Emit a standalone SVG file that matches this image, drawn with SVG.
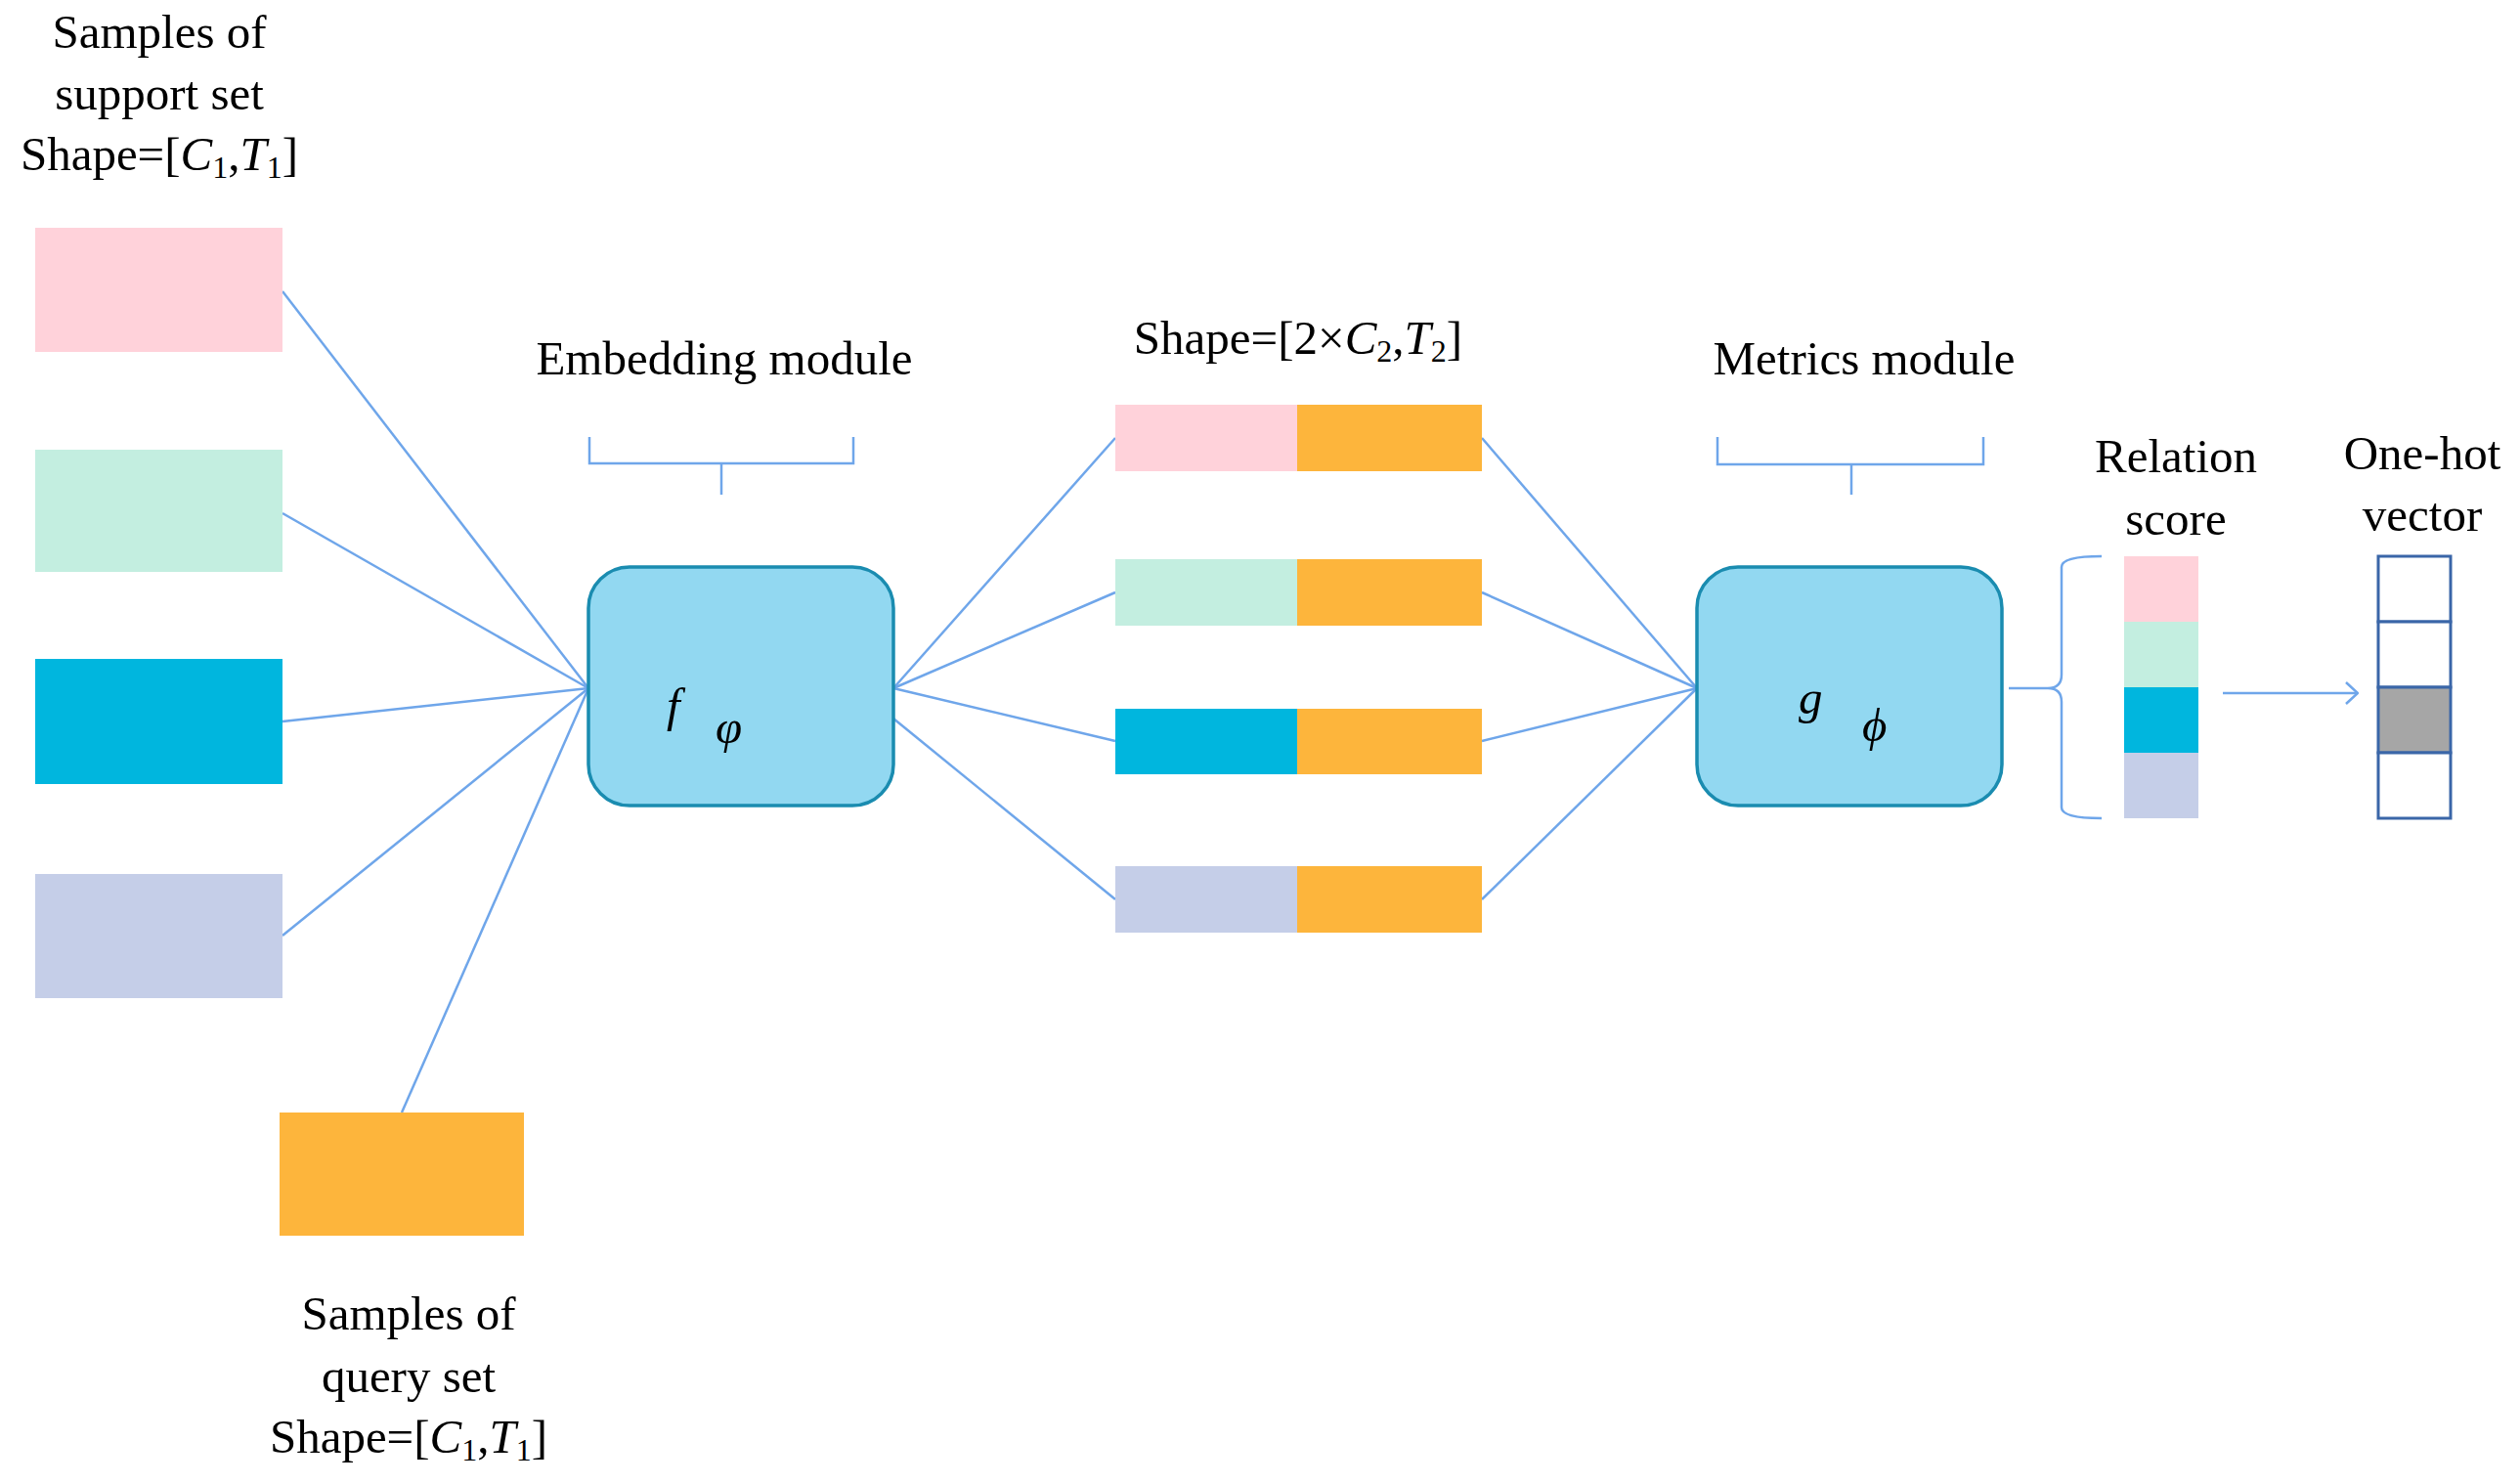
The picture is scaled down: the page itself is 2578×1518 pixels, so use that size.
<svg xmlns="http://www.w3.org/2000/svg" width="2578" height="1518" viewBox="0 0 2578 1518">
<style>
text{font-family:"Liberation Serif",serif;fill:#000;font-size:49px}
.c{stroke:#6fa6ea;stroke-width:2.5;fill:none}
.box{fill:#92d8f1;stroke:#1a8cb0;stroke-width:3.5}
.pk{fill:#ffd2da}.gr{fill:#c3eee0}.bl{fill:#00b6de}.lv{fill:#c5cee8}.or{fill:#fdb53c}
.oh{fill:#fff;stroke:#3a66a8;stroke-width:3}
</style>
<defs><marker id="a" markerWidth="14" markerHeight="24" refX="13" refY="12" orient="auto" markerUnits="userSpaceOnUse"><path d="M1,1 L13,12 L1,23" fill="none" stroke="#6fa6ea" stroke-width="2.5"/></marker></defs>
<g id="connectors">
<line class="c" x1="289" y1="298" x2="602" y2="704"/>
<line class="c" x1="289" y1="525" x2="602" y2="704"/>
<line class="c" x1="289" y1="738" x2="602" y2="704"/>
<line class="c" x1="289" y1="957" x2="602" y2="704"/>
<line class="c" x1="411" y1="1138" x2="602" y2="704"/>
<line class="c" x1="914" y1="704" x2="1141" y2="448"/>
<line class="c" x1="914" y1="704" x2="1141" y2="606"/>
<line class="c" x1="914" y1="704" x2="1141" y2="758"/>
<line class="c" x1="914" y1="735" x2="1141" y2="920"/>
<line class="c" x1="1516" y1="448" x2="1736" y2="704"/>
<line class="c" x1="1516" y1="606" x2="1736" y2="704"/>
<line class="c" x1="1516" y1="758" x2="1736" y2="704"/>
<line class="c" x1="1516" y1="920" x2="1736" y2="704"/>
<path class="c" d="M603,447 V474 H873 V447 M738,474 V506"/>
<path class="c" d="M1757,447 V475 H2029 V447 M1894,475 V506"/>
<path class="c" d="M2055,704 H2095 Q2109,704 2109,690 V580 Q2109,569 2150,569 M2095,704 Q2109,704 2109,718 V826 Q2109,837 2150,837"/>
<line class="c" x1="2274" y1="709" x2="2412" y2="709" marker-end="url(#a)"/>
</g>
<g id="support-label"><text text-anchor="middle" x="163" y="49">Samples of</text><text text-anchor="middle" x="163" y="112">support set</text><text text-anchor="middle" x="163" y="174">Shape=[<tspan font-style="italic">C</tspan><tspan font-size="32" dy="8">1</tspan><tspan dy="-8">,</tspan><tspan font-style="italic">T</tspan><tspan font-size="32" dy="8">1</tspan><tspan dy="-8">]</tspan></text></g>
<g id="support"><rect class="pk" x="36" y="233" width="253" height="127"/><rect class="gr" x="36" y="460" width="253" height="125"/><rect class="bl" x="36" y="674" width="253" height="128"/><rect class="lv" x="36" y="894" width="253" height="127"/></g>
<g id="query"><rect class="or" x="286" y="1138" width="250" height="126"/><text text-anchor="middle" x="418" y="1360">Samples of</text><text text-anchor="middle" x="418" y="1424">query set</text><text text-anchor="middle" x="418" y="1486">Shape=[<tspan font-style="italic">C</tspan><tspan font-size="32" dy="8">1</tspan><tspan dy="-8">,</tspan><tspan font-style="italic">T</tspan><tspan font-size="32" dy="8">1</tspan><tspan dy="-8">]</tspan></text></g>
<g id="embedding"><text text-anchor="middle" x="741" y="383">Embedding module</text><rect class="box" x="602" y="580" width="312" height="244" rx="42"/><text x="682" y="738" font-size="120" font-style="italic">f</text><text x="732" y="760" font-size="62" font-style="italic">φ</text></g>
<g id="pairs"><text text-anchor="middle" x="1328" y="362">Shape=[2×<tspan font-style="italic">C</tspan><tspan font-size="32" dy="8">2</tspan><tspan dy="-8">,</tspan><tspan font-style="italic">T</tspan><tspan font-size="32" dy="8">2</tspan><tspan dy="-8">]</tspan></text>
<rect class="pk" x="1141" y="414" width="186" height="68"/><rect class="or" x="1327" y="414" width="189" height="68"/>
<rect class="gr" x="1141" y="572" width="186" height="68"/><rect class="or" x="1327" y="572" width="189" height="68"/>
<rect class="bl" x="1141" y="725" width="186" height="67"/><rect class="or" x="1327" y="725" width="189" height="67"/>
<rect class="lv" x="1141" y="886" width="186" height="68"/><rect class="or" x="1327" y="886" width="189" height="68"/></g>
<g id="metrics"><text text-anchor="middle" x="1907" y="383">Metrics module</text><rect class="box" x="1736" y="580" width="312" height="244" rx="42"/><text x="1840" y="730" font-size="120" font-style="italic">g</text><text x="1905" y="758" font-size="62" font-style="italic">ϕ</text></g>
<g id="relation"><text text-anchor="middle" x="2226" y="483">Relation</text><text text-anchor="middle" x="2226" y="547">score</text>
<rect class="pk" x="2173" y="569" width="76" height="67"/><rect class="gr" x="2173" y="636" width="76" height="67"/><rect class="bl" x="2173" y="703" width="76" height="67"/><rect class="lv" x="2173" y="770" width="76" height="67"/></g>
<g id="onehot"><text text-anchor="middle" x="2478" y="480">One-hot</text><text text-anchor="middle" x="2478" y="543">vector</text>
<rect class="oh" x="2433" y="569" width="74" height="67"/><rect class="oh" x="2433" y="636" width="74" height="67"/><rect class="oh" x="2433" y="703" width="74" height="67" style="fill:#a6a6a6"/><rect class="oh" x="2433" y="770" width="74" height="67"/></g>
</svg>
